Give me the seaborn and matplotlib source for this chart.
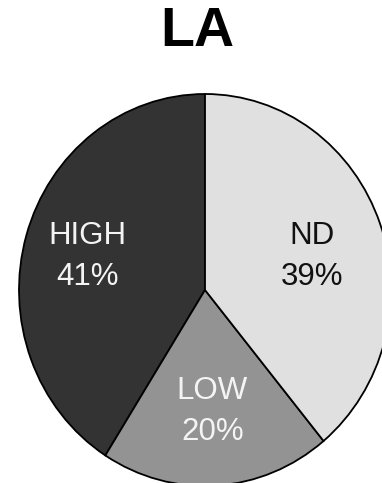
import matplotlib
matplotlib.use("Agg")
import matplotlib.pyplot as plt
import seaborn as sns

# Share of samples by detection level
categories = ["HIGH", "LOW", "ND"]
percentages = [41, 20, 39]
title = "LA"

sns.set_theme(style="white")
plt.rcParams["font.family"] = ["Liberation Sans", "DejaVu Sans"]

palette = sns.color_palette(["#333333", "#939393", "#e0e0e0"])
text_colors = ["#f4f4f4", "#f4f4f4", "#111111"]

W, H = 382, 483
fig = plt.figure(figsize=(W / 100, H / 100), dpi=100)

# Pie occupies the lower part of the figure; it extends slightly past the right edge
left_px, right_px, top_px, bottom_px = 19, 391, 94, 483
ax = fig.add_axes([left_px / W, (H - bottom_px) / H,
                   (right_px - left_px) / W, (bottom_px - top_px) / H])

labels = [f"{c}\n{p}%" for c, p in zip(categories, percentages)]
wedges, texts = ax.pie(
    percentages,
    labels=labels,
    colors=palette,
    startangle=90,
    counterclock=True,
    labeldistance=0.63,
    wedgeprops=dict(edgecolor="black", linewidth=1.3),
    textprops=dict(ha="center", va="center", fontsize=22.5, linespacing=1.45),
)

# Label anchor points inside each wedge (axes data units)
label_xy = [(-0.63, 0.17), (0.04, -0.62), (0.575, 0.17)]
for t, c, xy in zip(texts, text_colors, label_xy):
    t.set_color(c)
    t.set_position(xy)

ax.set_aspect("auto")
ax.set_xlim(-1.0, 1.0)
ax.set_ylim(-0.985, 1.0)
ax.set_axis_off()

fig.text(197 / W, 1 - 32 / H, title, ha="center", va="center",
         fontsize=40, fontweight="bold", color="black")

fig.savefig("out.png", dpi=100, facecolor="white")
